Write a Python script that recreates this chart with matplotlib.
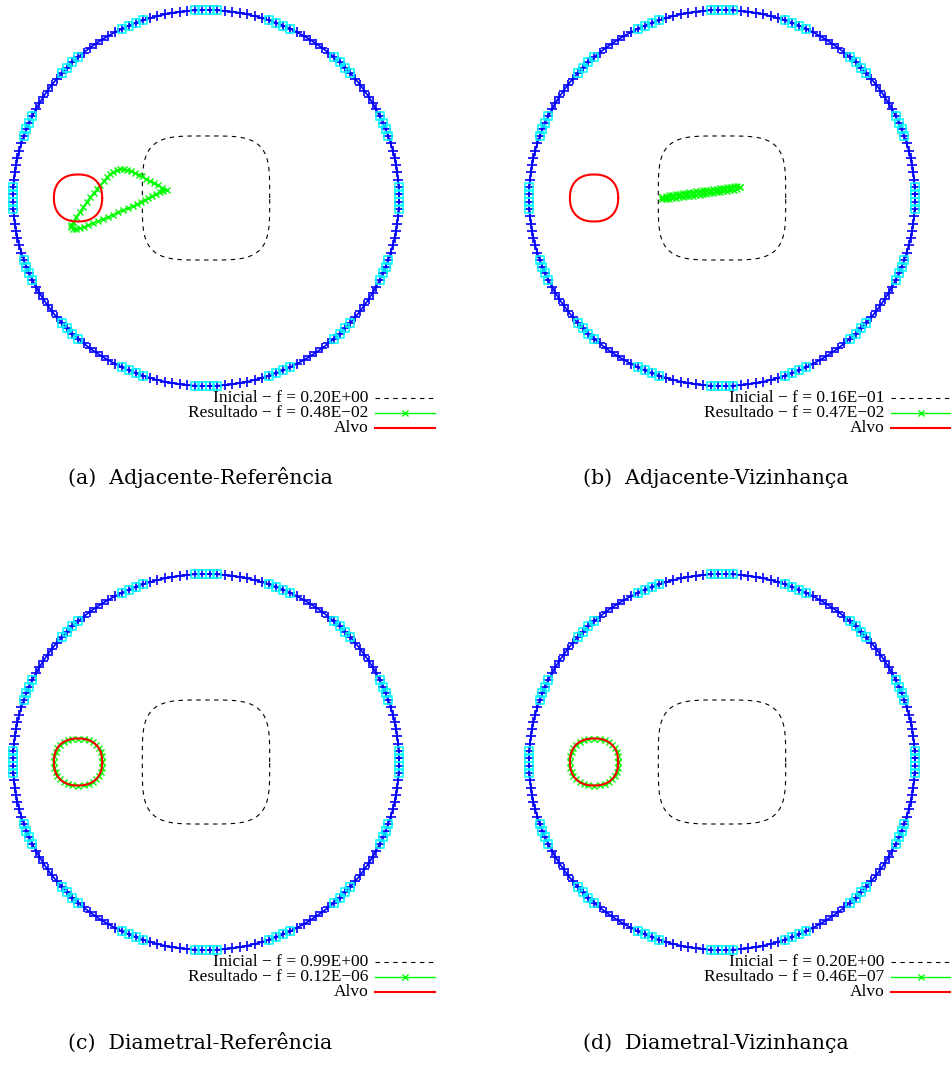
import numpy as np
import matplotlib
matplotlib.use("Agg")
import matplotlib.pyplot as plt

# --- geometry (unit circle = domain boundary) ---
n_nodes = 160            # boundary nodes
n_electrodes = 16        # groups of 4 electrode nodes
electrode_idx = [8, 9, 0, 1]   # node index mod 10 that belongs to an electrode

inicial_half = 0.33      # initial guess: rounded square centred at origin
inicial_power = 4.0
alvo_center = (-0.663, 0.0)
alvo_half = 0.125
alvo_power = 2.3

# result of (a): closed loop (upper branch, then lower branch back)
res_a_up_x = [-0.689, -0.674, -0.653, -0.637, -0.617, -0.601, -0.580, -0.565, -0.549,
              -0.528, -0.513, -0.497, -0.482, -0.461, -0.446, -0.425, -0.409, -0.389,
              -0.368, -0.347, -0.332, -0.311, -0.290, -0.269, -0.249, -0.228, -0.202]
res_a_up_y = [-0.128, -0.101, -0.074, -0.048, -0.021, 0.005, 0.027, 0.048, 0.069,
              0.090, 0.112, 0.128, 0.138, 0.149, 0.154, 0.154, 0.149, 0.144,
              0.133, 0.122, 0.117, 0.101, 0.090, 0.080, 0.069, 0.053, 0.043]
res_a_lo_x = [-0.223, -0.238, -0.259, -0.280, -0.301, -0.316, -0.337, -0.358, -0.378,
              -0.404, -0.430, -0.456, -0.482, -0.508, -0.534, -0.560, -0.585, -0.611,
              -0.632, -0.653, -0.674, -0.689, -0.699, -0.699, -0.689]
res_a_lo_y = [0.037, 0.032, 0.021, 0.011, 0.000, -0.011, -0.021, -0.032, -0.043,
              -0.053, -0.064, -0.074, -0.090, -0.101, -0.112, -0.122, -0.133, -0.144,
              -0.154, -0.160, -0.165, -0.165, -0.154, -0.144, -0.128]

# result of (b): thin sliver
res_b_x = [-0.310, -0.292, -0.275, -0.257, -0.240, -0.222, -0.204, -0.187, -0.169,
           -0.152, -0.134, -0.116, -0.099, -0.081, -0.064, -0.046, -0.028, -0.011,
           0.007, 0.024, 0.042, 0.060, 0.077, 0.095]
res_b_up = [0.004, 0.010, 0.015, 0.018, 0.020, 0.023, 0.025, 0.028, 0.030, 0.033,
            0.035, 0.038, 0.040, 0.043, 0.045, 0.048, 0.050, 0.053, 0.055, 0.058,
            0.060, 0.063, 0.064, 0.060]
res_b_lo = [-0.004, -0.006, -0.005, -0.002, 0.000, 0.003, 0.005, 0.008, 0.010, 0.013,
            0.015, 0.018, 0.020, 0.023, 0.025, 0.028, 0.030, 0.033, 0.035, 0.038,
            0.040, 0.043, 0.047, 0.056]

# results of (c), (d) coincide with the target
n_res_cd = 32

legend_inicial = ["0.20E+00", "0.16E\u221201", "0.99E+00", "0.20E+00"]
legend_result = ["0.48E\u221202", "0.47E\u221202", "0.12E\u221206", "0.46E\u221207"]
captions = ["(a)  Adjacente-Referência", "(b)  Adjacente-Vizinhança",
            "(c)  Diametral-Referência", "(d)  Diametral-Vizinhança"]

W, H = 951, 1065
centers = [(206, 198), (722, 198), (206, 762), (722, 762)]
caption_y = [478, 478, 1043, 1043]
caption_x = [200, 716, 200, 716]
SX, SY = 193.0, 188.0
XL, YL = (-1.08, 1.25), (-1.30, 1.08)

GREEN = "#00ff00"
BLUE = "#0000ff"
CYAN = "#00ffff"


def superellipse(cx, cy, a, p, n=200):
    t = np.linspace(0, 2 * np.pi, n)
    c, s = np.cos(t), np.sin(t)
    x = cx + a * np.sign(c) * np.abs(c) ** (2 / p)
    y = cy + a * np.sign(s) * np.abs(s) ** (2 / p)
    return x, y


fig = plt.figure(figsize=(W / 100, H / 100), dpi=100)

th = (np.arange(n_nodes) + 0.5) * 2 * np.pi / n_nodes
bx, by = np.cos(th), np.sin(th)
emask = np.isin(np.arange(n_nodes) % (n_nodes // n_electrodes), electrode_idx)

for k, (cx, cy) in enumerate(centers):
    left = cx + XL[0] * SX
    top = cy - YL[1] * SY
    w = (XL[1] - XL[0]) * SX
    h = (YL[1] - YL[0]) * SY
    ax = fig.add_axes([left / W, 1 - (top + h) / H, w / W, h / H])
    ax.set_xlim(*XL)
    ax.set_ylim(*YL)
    ax.axis("off")

    # boundary with electrodes
    ax.plot(np.append(bx, bx[0]), np.append(by, by[0]), "-", color=BLUE, lw=1.2,
            marker="+", ms=7, mew=1.2)
    ax.plot(bx[emask], by[emask], "s", ms=6, mfc="none", mec=CYAN, mew=1.1, zorder=3)

    # initial guess
    ix, iy = superellipse(0, 0, inicial_half, inicial_power)
    ax.plot(ix, iy, color="black", lw=0.8, dashes=(4, 4))

    # target
    tx, ty = superellipse(alvo_center[0], alvo_center[1], alvo_half, alvo_power)
    ax.plot(tx, ty, color="red", lw=1.5, zorder=5)

    # result
    if k == 0:
        rx = res_a_up_x + res_a_lo_x
        ry = res_a_up_y + res_a_lo_y
    elif k == 1:
        rx = res_b_x + res_b_x[::-1] + [res_b_x[0]]
        ry = res_b_up + res_b_lo[::-1] + [res_b_up[0]]
    else:
        rx, ry = superellipse(alvo_center[0], alvo_center[1], alvo_half, alvo_power,
                              n=n_res_cd + 1)
    ax.plot(rx, ry, "-", color=GREEN, lw=1.0, marker="x", ms=4.5, mew=1.0, zorder=4)

    # legend (gnuplot style)
    tx0, lx0, lx1 = 0.84, 0.876, 1.187
    rows = [-1.064, -1.144, -1.223]
    fs = 12.5
    ax.text(tx0, rows[0], "Inicial \u2212 f = " + legend_inicial[k], ha="right",
            va="center", fontsize=fs, family="Liberation Serif")
    ax.plot([lx0, lx1], [rows[0]] * 2, color="black", lw=0.8, dashes=(4, 4),
            clip_on=False)
    ax.text(tx0, rows[1], "Resultado \u2212 f = " + legend_result[k], ha="right",
            va="center", fontsize=fs, family="Liberation Serif")
    ax.plot([lx0, lx1], [rows[1]] * 2, color=GREEN, lw=1.0, clip_on=False)
    ax.plot([(lx0 + lx1) / 2], [rows[1]], "x", color=GREEN, ms=5, mew=1.0,
            clip_on=False)
    ax.text(tx0, rows[2], "Alvo", ha="right", va="center", fontsize=fs,
            family="Liberation Serif")
    ax.plot([lx0, lx1], [rows[2]] * 2, color="red", lw=1.5, clip_on=False)

    fig.text(caption_x[k] / W, 1 - caption_y[k] / H, captions[k], ha="center",
             va="center", fontsize=14.8, family="DejaVu Serif")

fig.savefig("out.png", dpi=100)
